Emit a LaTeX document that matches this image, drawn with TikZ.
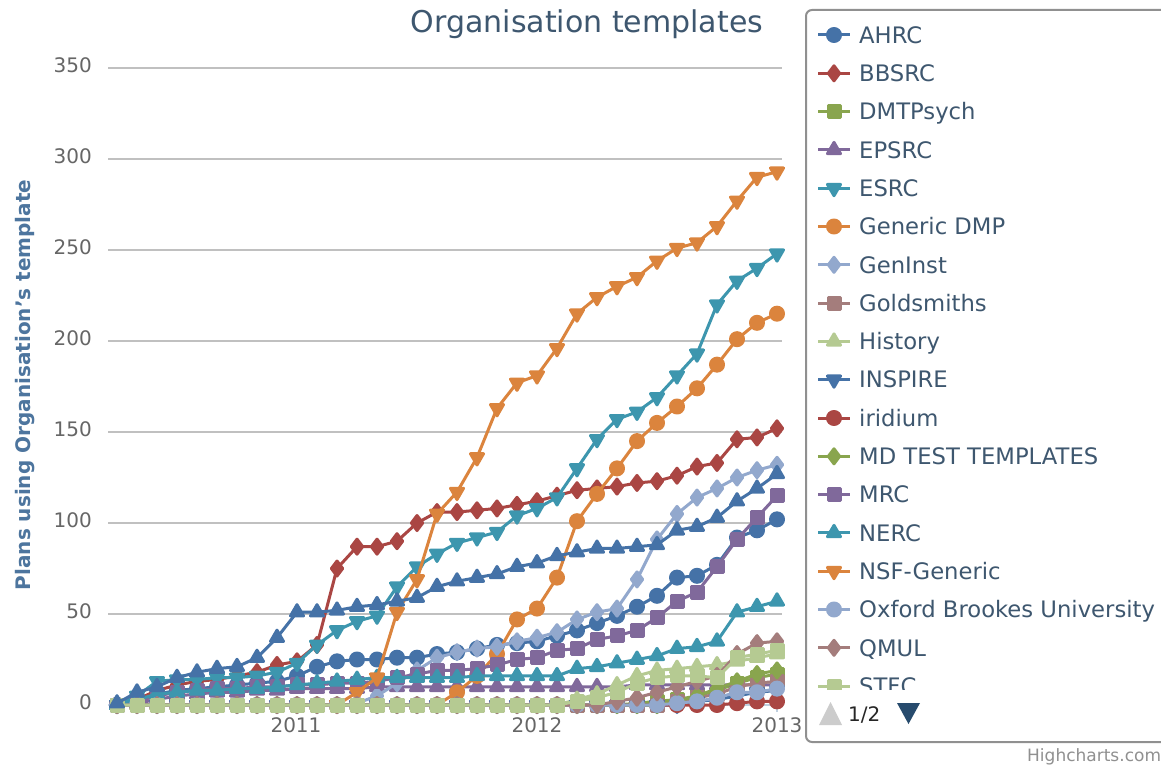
\documentclass[tikz,border=0pt]{standalone}
\usepackage{fontspec}
\setmainfont{DejaVu Sans}
\usepackage{tikz}
\usetikzlibrary{%
	calc,%
	plotmarks%
}
\definecolor{hcblue}{HTML}{4572A7}
\definecolor{hcred}{HTML}{AA4643}
\definecolor{hcgreen}{HTML}{89A54E}
\definecolor{hcpurple}{HTML}{80699B}
\definecolor{hcteal}{HTML}{3D96AE}
\definecolor{hcorange}{HTML}{DB843D}
\definecolor{hcltblue}{HTML}{92A8CD}
\definecolor{hcbrown}{HTML}{A47D7C}
\definecolor{hcltgreen}{HTML}{B5CA92}
\definecolor{titlecol}{HTML}{3E576F}
\definecolor{axistitle}{HTML}{4D759E}
\definecolor{labelgray}{HTML}{666666}
\definecolor{gridgray}{HTML}{C0C0C0}
\definecolor{axisline}{HTML}{C0D0E0}
\definecolor{legendborder}{HTML}{909090}
\definecolor{navdark}{HTML}{274B6D}
\definecolor{navgray}{HTML}{CCCCCC}

\begin{document}
\begin{tikzpicture}[x=1pt, y=-1pt,
	grid line/.style={draw=gridgray, line width=1.5pt},
	tick label/.style={text=labelgray, font=\fontsize{20}{24}\selectfont, inner sep=0pt},
	legend text/.style={text=titlecol, font=\fontsize{22.7}{27}\selectfont, inner sep=0pt},
	serline/.style={line width=3pt, line join=round},
	mkcircle/.style={mark=*, mark size=6.5pt},
	mkdiamond/.style={mark=diamond*, mark size=7.5pt},
	mksquare/.style={mark=square*, mark size=6pt},
	mktri/.style={mark=triangle*, mark size=7.5pt},
	mktridown/.style={mark=triangle*, mark size=7.5pt, mark options={rotate=180}}]
	\useasboundingbox (0,0) rectangle (1161,765);
	\fill[white] (0,0) rectangle (1161,765);

	% Title and axis title
	\node[text=titlecol, font=\fontsize{30}{36}\selectfont, inner sep=0pt, anchor=base] (title) at (587,33) {Organisation templates};
	\node[rotate=90, text=axistitle, font=\bfseries\fontsize{20}{24}\selectfont] (ytitle) at (25,385) {Plans using Organisation's template};

	% Grid and y labels
	\foreach \v in {0,50,...,350} {
		\pgfmathsetmacro\gy{705-1.82*\v}
		\node[tick label, anchor=base east] (ylab\v) at (92,\gy+4.5) {\v};
	}
	\foreach \v in {50,100,...,350}
		\draw[grid line] (108,{705-1.82*\v}) -- (782,{705-1.82*\v});
	\draw[draw=axisline, line width=1.5pt] (108,705) -- (782,705);

	% x axis ticks and years
	\foreach \yr/\xx in {2011/296,2012/537,2013/777} {
		\draw[draw=axisline, line width=1.5pt] (\xx,705) -- (\xx,712);
		\node[tick label, anchor=base] (year\yr) at (\xx,732) {\yr};
	}

	% one series: colour, marker, first month, values
	\def\hcseries#1#2#3#4{%
		\gdef\pts{}%
		\foreach \v [count=\k from #3] in {#4} {\xdef\pts{\pts (\k,\v)}}%
		\edef\tmp{\noexpand\draw[serline, #1, #2] plot coordinates {\pts};}%
		\tmp
	}

	\begin{scope}[shift={(117,705)}, x=20pt, y=1.82pt]
		% AHRC
		\hcseries{hcblue}{mkcircle}{0}{0,4,6,8,9,10,11,12,13,16,21,24,25,25,26,26,28,29,31,33,34,35,38,41,45,49,54,60,70,71,77,92,96,102}
		% BBSRC
		\hcseries{hcred}{mkdiamond}{0}{0,3,8,11,13,14,16,18,22,24,33,75,87,87,90,100,106,106,107,108,110,112,115,118,119,120,122,123,126,131,133,146,147,152}
		% DMTPsych
		\hcseries{hcgreen}{mksquare}{0}{0,0,0,0,0,0,0,0,0,0,0,0,0,0,0,0,0,0,0,0,0,0,0,0,0,0,1,2,3,5,8,12,15,17}
		% EPSRC
		\hcseries{hcpurple}{mktri}{0}{0,1,3,5,6,7,7,8,8,9,9,9,9,10,10,10,10,10,10,10,10,10,10,10,10,10,11,11,11,11,11,11,11,11}
		% ESRC
		\hcseries{hcteal}{mktridown}{0}{0,5,13,14,14,15,15,16,18,23,33,41,46,49,65,76,83,89,92,95,104,108,114,130,146,157,161,169,181,193,220,233,240,248}
		% Generic DMP
		\hcseries{hcorange}{mkcircle}{16}{0,7,16,28,47,53,70,101,116,130,145,155,164,174,187,201,210,215}
		% GenInst
		\hcseries{hcltblue}{mkdiamond}{12}{1,5,12,19,26,29,31,32,35,37,40,47,51,53,69,91,105,114,119,125,129,132}
		% Goldsmiths
		\hcseries{hcbrown}{mksquare}{0}{0,0,0,0,0,0,0,0,0,0,0,0,0,0,0,0,0,0,0,0,0,0,0,0,0,0,0,0,2,4,6,10,12,13}
		% History
		\hcseries{hcltgreen}{mktri}{0}{0,0,0,0,0,0,0,0,0,0,0,0,0,0,0,0,0,0,0,0,0,0,0,3,6,11,16,19,20,21,22,24,26,28}
		% INSPIRE
		\hcseries{hcblue}{mktridown}{0}{0,0,0,0,0,0,0,0,0,0,0,0,0,0,0,0,0,0,0,0,0,0,0,0,0,0,0,0,0,2,3,5,7,8}
		% iridium
		\hcseries{hcred}{mkcircle}{0}{0,0,0,0,0,0,0,0,0,0,0,0,0,0,0,0,0,0,0,0,0,0,0,0,0,0,0,0,0,0,0,1,2,2}
		% MD TEST TEMPLATES
		\hcseries{hcgreen}{mkdiamond}{0}{0,0,0,0,0,0,0,0,0,0,0,0,0,0,0,0,0,0,0,0,0,0,0,0,0,0,0,0,2,5,9,13,17,19}
		% MRC
		\hcseries{hcpurple}{mksquare}{0}{0,2,5,7,8,9,9,10,10,11,11,12,12,13,15,17,19,19,20,22,25,26,30,31,36,38,41,48,57,62,76,91,103,115}
		% NERC
		\hcseries{hcteal}{mktri}{0}{0,3,6,7,8,8,9,9,10,11,12,13,14,15,15,15,15,15,16,16,16,16,16,20,21,23,25,27,31,32,35,51,54,57}
		% NSF-Generic
		\hcseries{hcorange}{mktridown}{11}{0,7,15,51,69,105,117,136,163,177,181,196,215,224,230,235,244,251,254,263,277,290,293}
		% Oxford Brookes University
		\hcseries{hcltblue}{mkcircle}{0}{0,0,0,0,0,0,0,0,0,0,0,0,0,0,0,0,0,0,0,0,0,0,0,0,0,0,0,0,1,2,4,7,7,9}
		% QMUL
		\hcseries{hcbrown}{mkdiamond}{0}{0,0,0,0,0,0,0,0,0,0,0,0,0,0,0,0,0,0,0,0,0,0,0,0,0,2,4,7,10,13,16,28,34,35}
		% STFC
		\hcseries{hcltgreen}{mksquare}{0}{0,0,0,0,0,0,0,0,0,0,0,0,0,0,0,0,0,0,0,0,0,0,0,2,4,7,12,15,16,16,15,26,28,30}
		% next page of the legend
		\hcseries{hcblue}{mktri}{0}{1,7,10,15,18,20,21,26,37,51,51,52,54,55,57,59,65,68,70,72,76,78,82,84,86,86,87,88,96,98,103,112,119,127}
	\end{scope}

	% Legend box
	\draw[draw=legendborder, line width=2pt, rounded corners=6pt, fill=white] (806,10) rectangle (1180,742);
	\begin{scope}
		\clip (806,12) rectangle (1161,689);
		\foreach \name/\col/\mk [count=\i from 0] in {AHRC/hcblue/mkcircle, BBSRC/hcred/mkdiamond,
			DMTPsych/hcgreen/mksquare, EPSRC/hcpurple/mktri, ESRC/hcteal/mktridown,
			Generic DMP/hcorange/mkcircle, GenInst/hcltblue/mkdiamond, Goldsmiths/hcbrown/mksquare,
			History/hcltgreen/mktri, INSPIRE/hcblue/mktridown, iridium/hcred/mkcircle,
			MD TEST TEMPLATES/hcgreen/mkdiamond, MRC/hcpurple/mksquare, NERC/hcteal/mktri,
			NSF-Generic/hcorange/mktridown, Oxford Brookes University/hcltblue/mkcircle,
			QMUL/hcbrown/mkdiamond, STFC/hcltgreen/mksquare} {
			\pgfmathsetmacro\yy{35+38.3*\i}
			\edef\tmp{\noexpand\draw[serline, \col, \mk] (818,\yy) -- (850,\yy) plot coordinates {(834,\yy)};}
			\tmp
			\node[legend text, anchor=base west] (leg\i) at (859,\yy+8.2) {\name};
		}
	\end{scope}

	% Legend pages
	\fill[navgray] (819,725) -- (842,725) -- (830.5,702) -- cycle;
	\node[text=black!85, font=\fontsize{20}{24}\selectfont, inner sep=0pt, anchor=base west] (page) at (848,721) {1/2};
	\fill[navdark] (897,703) -- (920,703) -- (908.5,724) -- cycle;

	% Credit
	\node[text=legendborder, font=\fontsize{17}{20}\selectfont, inner sep=0pt, anchor=base west] (credit) at (1027,761) {Highcharts.com};
\end{tikzpicture}
\end{document}
